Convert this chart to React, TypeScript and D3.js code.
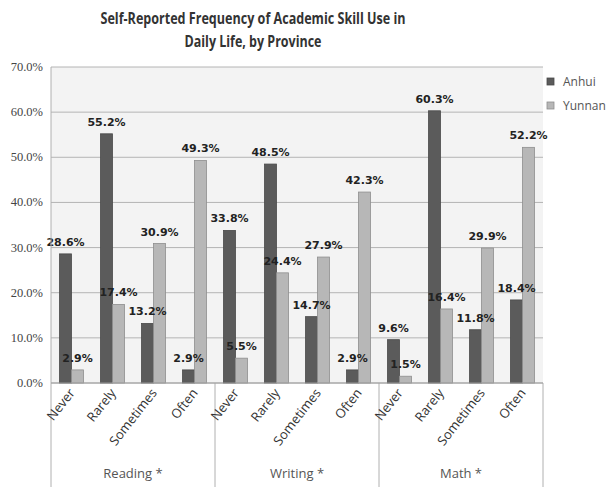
import React from 'react';
import * as d3 from 'd3';

const groups = ['Reading *', 'Writing *', 'Math *'];
const categories = ['Never', 'Rarely', 'Sometimes', 'Often'];
const seriesNames = ['Anhui', 'Yunnan'];
const anhui = [28.6, 55.2, 13.2, 2.9, 33.8, 48.5, 14.7, 2.9, 9.6, 60.3, 11.8, 18.4];
const yunnan = [2.9, 17.4, 30.9, 49.3, 5.5, 24.4, 27.9, 42.3, 1.5, 16.4, 29.9, 52.2];
const yTicks = [0, 10, 20, 30, 40, 50, 60, 70];
const colors = ['#5b5b5b', '#b7b7b7'];
const strokes = ['#4a4a4a', '#8e8e8e'];

const W = 614, H = 495;
const L = 51, R = 543, T = 67, B = 383;

export default function App() {
  const slots = groups.flatMap((g, gi) => categories.map((c, ci) => `${gi}-${ci}`));
  const x = d3.scaleBand<string>().domain(slots).range([L, R]).padding(0);
  const xg = d3.scaleBand<string>().domain(groups).range([L, R]).padding(0);
  const inner = d3.scaleBand<string>().domain(seriesNames).range([0, x.bandwidth()]).paddingInner(0).paddingOuter(0.71);
  const y = d3.scaleLinear().domain([0, 70]).range([B, T]);
  const values = [anhui, yunnan];
  const fmt = (v: number) => v.toFixed(1) + '%';

  return (
    <svg width={W} height={H} style={{ position: 'absolute', left: 0, top: 0, background: '#fff' }}>
      <rect x={L} y={T} width={R - L} height={B - T} fill="#f3f3f3" />
      {yTicks.map(t => (
        <g key={t}>
          <line x1={L} x2={R} y1={y(t)} y2={y(t)} stroke="#b4b4b4" strokeWidth={1} />
          <text x={43} y={y(t) + 4} textAnchor="end" fontFamily="Liberation Serif, serif" fontSize={12.5} fill="#444">{t.toFixed(1) + '%'}</text>
        </g>
      ))}
      {slots.map((s, i) => seriesNames.map((sn, si) => {
        const v = values[si][i];
        const bx = (x(s) as number) + (inner(sn) as number);
        return (
          <rect key={s + sn} x={bx} y={y(v)} width={inner.bandwidth()} height={B - y(v)} fill={colors[si]} stroke={strokes[si]} strokeWidth={0.8} />
        );
      }))}
      {slots.map((s, i) => seriesNames.map((sn, si) => {
        const v = values[si][i];
        const cx = (x(s) as number) + (inner(sn) as number) + inner.bandwidth() / 2;
        return (
          <text key={'l' + s + sn} x={cx} y={y(v) - 8} textAnchor="middle" fontFamily="DejaVu Sans, sans-serif" fontWeight="bold" fontSize={11} fill="#222">{fmt(v)}</text>
        );
      }))}
      <line x1={L} x2={L} y1={T} y2={487} stroke="#b0b0b0" />
      {groups.map(g => (
        <line key={'sep' + g} x1={(xg(g) as number) + xg.bandwidth()} x2={(xg(g) as number) + xg.bandwidth()} y1={B} y2={487} stroke="#b0b0b0" />
      ))}
      <line x1={L} x2={R} y1={B} y2={B} stroke="#a0a0a0" />
      {slots.map((s, i) => {
        const cx = (x(s) as number) + x.bandwidth() / 2 + 4;
        return (
          <text key={'t' + s} transform={`translate(${cx},${393}) rotate(-52)`} textAnchor="end" fontFamily="Open Sans, sans-serif" fontSize={13} fill="#333">{categories[i % 4]}</text>
        );
      })}
      {groups.map(g => (
        <text key={'g' + g} x={(xg(g) as number) + xg.bandwidth() / 2} y={478} textAnchor="middle" fontFamily="Open Sans, sans-serif" fontSize={13} fill="#555">{g}</text>
      ))}
      {seriesNames.map((sn, si) => (
        <g key={'lg' + sn}>
          <rect x={547} y={78 + si * 24} width={7} height={7} fill={colors[si]} stroke={strokes[si]} strokeWidth={0.8} />
          <text x={563} y={86 + si * 24} fontFamily="Open Sans, sans-serif" fontSize={12} fill="#555">{sn}</text>
        </g>
      ))}
      <text x={253} y={24} textAnchor="middle" fontFamily="Open Sans, sans-serif" fontWeight="bold" fontSize={16} fill="#333" textLength={305} lengthAdjust="spacingAndGlyphs">Self-Reported Frequency of Academic Skill Use in</text>
      <text x={253} y={47} textAnchor="middle" fontFamily="Open Sans, sans-serif" fontWeight="bold" fontSize={16} fill="#333" textLength={137} lengthAdjust="spacingAndGlyphs">Daily Life, by Province</text>
    </svg>
  );
}
